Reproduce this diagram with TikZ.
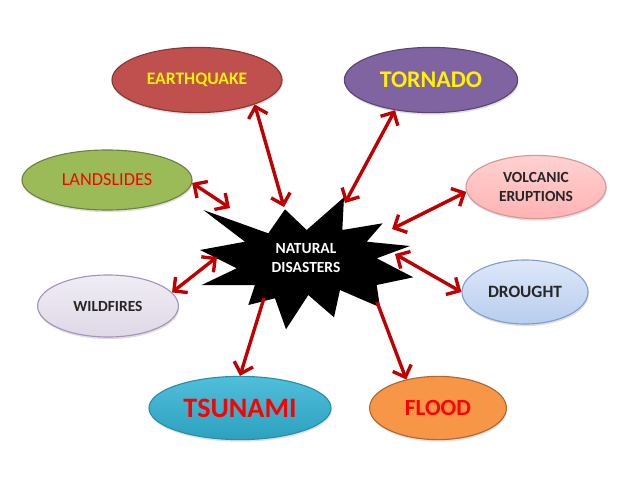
\documentclass[tikz,border=0pt]{standalone}
\usepackage{fontspec}
\setmainfont{Carlito}
\usetikzlibrary{arrows.meta,shapes,shadows}

\definecolor{arrowred}{HTML}{C00000}
\definecolor{quakered}{HTML}{C0504D}
\definecolor{tornadopurple}{HTML}{8064A2}
\definecolor{slidegreen}{HTML}{9BBB59}
\definecolor{floodorange}{HTML}{F79646}
\definecolor{tsunamiblue}{HTML}{31B3D4}
\definecolor{droughttop}{HTML}{DDE7F8}
\definecolor{droughtbot}{HTML}{B8CDEE}
\definecolor{droughtline}{HTML}{7F9FD3}

\begin{document}
\begin{tikzpicture}[x=0.025cm,y=-0.025cm,>={Straight Barb[length=7pt,width=14pt]}]
  \tikzstyle{disaster}=[ellipse,inner sep=0pt,line width=0.8pt,
                        drop shadow={opacity=0.25,shadow xshift=0.5pt,shadow yshift=-1.5pt}]
  \tikzstyle{link}=[draw=arrowred,line width=2.4pt]

  \useasboundingbox (0,0) rectangle (640,480);

  \node[disaster,fill=quakered,draw=quakered!70!black,minimum width=4.25cm,minimum height=1.63cm,
        text=yellow,font=\bfseries\fontsize{12.5}{15}\selectfont] (quake) at (197,80) {EARTHQUAKE};
  \node[disaster,fill=tornadopurple,draw=tornadopurple!70!black,minimum width=4.33cm,minimum height=1.63cm,
        text=yellow,font=\bfseries\fontsize{17}{20}\selectfont] (tornado) at (431,80) {TORNADO};
  \node[disaster,fill=slidegreen,draw=slidegreen!70!black,minimum width=4.25cm,minimum height=1.5cm,
        text=red,font=\fontsize{13}{15}\selectfont] (slides) at (107,180) {LANDSLIDES};
  \node[disaster,top color=red!18,bottom color=red!30,draw=quakered!60,minimum width=3.5cm,minimum height=1.58cm,
        text=black!85,align=center,font=\bfseries\fontsize{11}{13}\selectfont] (volcano) at (536,187) {VOLCANIC\\ERUPTIONS};
  \node[disaster,top color=tornadopurple!12,bottom color=tornadopurple!25,draw=tornadopurple!70,minimum width=3.52cm,minimum height=1.55cm,
        text=black!85,font=\bfseries\fontsize{11}{13}\selectfont] (fires) at (108,306) {WILDFIRES};
  \node[disaster,top color=droughttop,bottom color=droughtbot,draw=droughtline,minimum width=3.15cm,minimum height=1.6cm,
        text=black!85,font=\bfseries\fontsize{12.3}{15}\selectfont] (drought) at (525,292) {DROUGHT};
  \node[disaster,top color=tsunamiblue!85,bottom color=tsunamiblue!90!black,draw=tsunamiblue!80!black,minimum width=4.55cm,minimum height=1.58cm,
        text=red,font=\bfseries\fontsize{20}{23}\selectfont] (tsunami) at (240,408) {TSUNAMI};
  \node[disaster,fill=floodorange,draw=floodorange!70!black,minimum width=3.42cm,minimum height=1.58cm,
        text=red,font=\bfseries\fontsize{16.5}{19}\selectfont] (flood) at (438,408) {FLOOD};

  % the burst in the middle
  \fill (203.3,210) -- (268.3,233.3) -- (285,209.3) -- (306.7,230) -- (344,197.3)
        -- (342.3,230) -- (382.7,223.3) -- (366.7,241.7) -- (410,246) -- (376.7,258.3)
        -- (413.3,277.3) -- (376.7,285) -- (380,307.3) -- (340,290) -- (334,317.3)
        -- (308.3,295) -- (286,329.3) -- (275,298.3) -- (248.3,305) -- (255,285)
        -- (201.7,285) -- (236.7,268.3) -- (200,250) -- (245,241.7) -- cycle;
  \node[text=white,align=center,font=\bfseries\fontsize{11}{13.5}\selectfont] (core) at (306,258) {NATURAL\\DISASTERS};

  \coordinate (quakeS)   at (284,207);
  \coordinate (tornadoS) at (345,203);
  \coordinate (slidesS)  at (230,208);
  \coordinate (volcanoS) at (392,229);
  \coordinate (droughtS) at (395,254);
  \coordinate (firesS)   at (217,257);
  \coordinate (tsunamiS) at (264,298);
  \coordinate (floodS)   at (377,302);

  \path[<->] (quake.-23)    edge[link] (quakeS)
             (tornado.-140) edge[link] (tornadoS)
             (slides.-2)    edge[link] (slidesS)
             (volcano.-176) edge[link] (volcanoS)
             (drought.180)  edge[link] (droughtS)
             (fires.12)     edge[link] (firesS);
  \path[->]  (tsunamiS) edge[link] (tsunami.90)
             (floodS)   edge[link] (flood.138);
\end{tikzpicture}
\end{document}
